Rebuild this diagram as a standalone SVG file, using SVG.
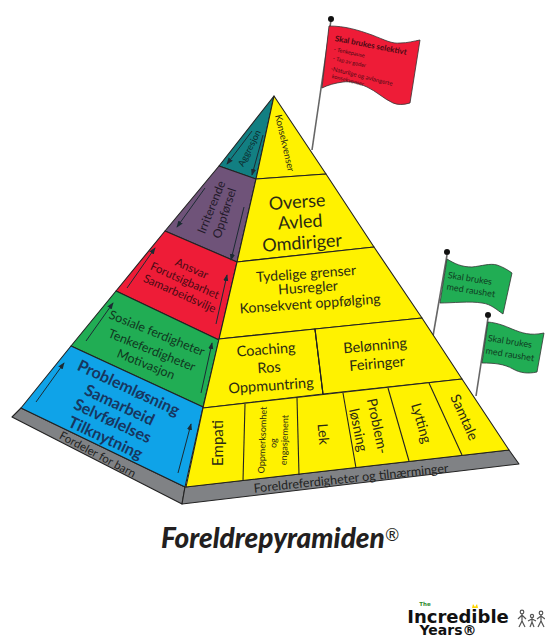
<svg xmlns="http://www.w3.org/2000/svg" width="545" height="637" viewBox="0 0 545 637">
<style>
text{font-family:"Lato","Open Sans","Liberation Sans",sans-serif;text-anchor:middle;dominant-baseline:central;fill:#2b2a14}
.s{stroke:#222;stroke-width:1.1;stroke-linejoin:round}
.l{stroke:#222;stroke-width:1.1;fill:none}
.a{stroke:#1c2b33;stroke-width:1;fill:none;marker-end:url(#ah)}
.pole{stroke:#666;stroke-width:1.6;fill:none}
.flag{stroke:#333;stroke-width:.8}
.b{fill:#17365f;font-weight:700}
.st{text-anchor:start;fill:#4a0a14}
.logo{font-family:"DejaVu Sans",sans-serif;font-weight:700;fill:#111}
</style>
<defs><marker id="ah" viewBox="0 0 8 8" refX="7" refY="4" markerWidth="7" markerHeight="7" markerUnits="userSpaceOnUse" orient="auto"><path d="M0 1L8 4L0 7z" fill="#1c2b33"/></marker></defs>
<rect width="545" height="637" fill="#fff"/>

<g id="flag-red">
<path class="pole" d="M331 20L312 150"/><circle cx="331" cy="19" r="3" fill="#111"/>
<path class="flag" fill="#ee1c37" d="M329 26C345 26 358 30 372 35C385 40 392 44 400 43C408 43 414 41 420 40L410 103C403 105 398 105 393 103C384 99 376 91 367 87C358 83 350 81 343 82C335 83 328 85 322 88Z"/>
<text class="st" transform="translate(335,38) rotate(11)" font-size="8" font-weight="700">Skal brukes selektivt</text>
<text class="st" transform="translate(334,49) rotate(12)" font-size="5.5">- Tenkepause</text>
<text class="st" transform="translate(333,58) rotate(13)" font-size="5.5">- Tap av goder</text>
<text class="st" transform="translate(331,68) rotate(14)" font-size="6">-Naturlige og avlangerte</text>
<text class="st" transform="translate(332,76) rotate(14)" font-size="5.5">konsekvenser</text>
</g>

<g id="flag-green-1">
<path class="pole" d="M447 255L433 336"/><circle cx="447" cy="252" r="3" fill="#111"/>
<path class="flag" fill="#21ad54" d="M447 259C455 264 462 267 472 267C482 266 490 263 497 265C503 267 508 270 512 273L503 314C497 310 491 304 482 303C470 301 452 303 440 303Z"/>
<text transform="translate(470,278) rotate(9)" font-size="9" style="fill:#0f3d22">Skal brukes</text>
<text transform="translate(471,290) rotate(9)" font-size="9" style="fill:#0f3d22">med raushet</text>
</g>

<g id="flag-green-2">
<path class="pole" d="M488 318L476 396"/><circle cx="488" cy="315" r="3" fill="#111"/>
<path class="flag" fill="#21ad54" d="M488 322C498 323 505 326 512 329C522 333 530 336 544 333L537 372C528 374 520 373 513 369C504 364 495 363 482 363Z"/>
<text transform="translate(510,341) rotate(9)" font-size="9" style="fill:#0f3d22">Skal brukes</text>
<text transform="translate(510,354) rotate(9)" font-size="9" style="fill:#0f3d22">med raushet</text>
</g>

<g id="base">
<path class="s" fill="#808285" d="M21 408L12 417L182 504L185 487Z"/>
<path class="s" fill="#808285" d="M185 487L182 504L519 464L509 450Z"/>
<text transform="translate(98,454) rotate(28)" font-size="11.5" style="fill:#222">Fordeler for barn</text>
<text transform="translate(351,478) rotate(-6)" font-size="12.5" style="fill:#222">Foreldreferdigheter og tilnærminger</text>
</g>

<g id="left-aggresjon">
<path class="s" fill="#127f82" d="M274 96L219 166L256 179Z"/>
<text transform="translate(249,148) rotate(-63)" font-size="9" style="fill:#0c2a2c">Aggresjon</text>
</g>
<g id="left-irriterende">
<path class="s" fill="#6f5379" d="M219 166L165 231L237 262L256 179Z"/>
<text transform="translate(211,207) rotate(-68)" font-size="12" style="fill:#231a2a">Irriterende</text>
<text transform="translate(224,213) rotate(-72)" font-size="12" style="fill:#231a2a">Oppførsel</text>
</g>
<g id="left-ansvar">
<path class="s" fill="#ee1c37" d="M165 231L116 291L219 340L237 262Z"/>
<text transform="translate(192,268) rotate(24)" font-size="11.5" style="fill:#4a0a14">Ansvar</text>
<text transform="translate(185,280) rotate(24)" font-size="11.5" style="fill:#4a0a14">Forutsigbarhet</text>
<text transform="translate(180,293) rotate(24)" font-size="11.5" style="fill:#4a0a14">Samarbeidsvilje</text>
</g>
<g id="left-sosiale">
<path class="s" fill="#21ad54" d="M116 291L71 346L203 407L219 340Z"/>
<text transform="translate(157,333) rotate(22)" font-size="12.5" style="fill:#10381f">Sosiale ferdigheter</text>
<text transform="translate(152,350) rotate(22)" font-size="12.5" style="fill:#10381f">Tenkeferdigheter</text>
<text transform="translate(146,364) rotate(22)" font-size="12.5" style="fill:#10381f">Motivasjon</text>
</g>
<g id="left-problemlosning">
<path class="s" fill="#0fa3e8" d="M71 346L21 408L185 487L203 407Z"/>
<text class="b" transform="translate(129,387) rotate(25)" font-size="16">Problemløsning</text>
<text class="b" transform="translate(120,404) rotate(25)" font-size="16">Samarbeid</text>
<text class="b" transform="translate(113,420) rotate(25)" font-size="16">Selvfølelses</text>
<text class="b" transform="translate(106,437) rotate(25)" font-size="16">Tilknytning</text>
</g>

<g id="front-konsekvenser">
<path class="s" fill="#fff200" d="M274 96L256 179L326 174Z"/>
<text transform="translate(285,143) rotate(77)" font-size="9.5">Konsekvenser</text>
</g>
<g id="front-overse">
<path class="s" fill="#fff200" d="M256 179L237 262L374 247L326 174Z"/>
<text transform="translate(297,201) rotate(-4)" font-size="18">Overse</text>
<text transform="translate(300,221) rotate(-4)" font-size="18">Avled</text>
<text transform="translate(302,242) rotate(-4)" font-size="18">Omdiriger</text>
</g>
<g id="front-tydelige">
<path class="s" fill="#fff200" d="M237 262L219 339L422 318L374 247Z"/>
<text transform="translate(306,273) rotate(-4)" font-size="14">Tydelige grenser</text>
<text transform="translate(308,287) rotate(-4)" font-size="14">Husregler</text>
<text transform="translate(310,303) rotate(-4)" font-size="14">Konsekvent oppfølging</text>
</g>
<g id="front-coaching">
<path class="s" fill="#fff200" d="M219 339L203 408L323 394L315 329Z"/>
<text transform="translate(266,349) rotate(-4)" font-size="14.5">Coaching</text>
<text transform="translate(269,367) rotate(-4)" font-size="14.5">Ros</text>
<text transform="translate(271,385) rotate(-4)" font-size="14.5">Oppmuntring</text>
</g>
<g id="front-belonning">
<path class="s" fill="#fff200" d="M315 329L323 394L462 379L422 318Z"/>
<text transform="translate(375,345) rotate(-5)" font-size="14.5">Belønning</text>
<text transform="translate(377,363) rotate(-5)" font-size="14.5">Feiringer</text>
</g>
<g id="front-ferdigheter">
<path class="s" fill="#fff200" d="M203 408L186 487L509 450L462 379Z"/>
</g>
<g id="skill-empati"><text transform="translate(217,443) rotate(-90)" font-size="15">Empati</text></g>
<g id="skill-oppmerksomhet">
<text transform="translate(262,440) rotate(-88)" font-size="9">Oppmerksomhet</text>
<text transform="translate(273,443) rotate(-88)" font-size="9">og</text>
<text transform="translate(284,440) rotate(-88)" font-size="9">engasjement</text>
</g>
<g id="skill-lek"><text transform="translate(324,434) rotate(85)" font-size="14">Lek</text></g>
<g id="skill-problem">
<text transform="translate(378,426) rotate(78)" font-size="14">Problem-</text>
<text transform="translate(359,430) rotate(78)" font-size="14">løsning</text>
</g>
<g id="skill-lytting"><text transform="translate(422,423) rotate(74)" font-size="14">Lytting</text></g>
<g id="skill-samtale"><text transform="translate(465,417) rotate(66)" font-size="14">Samtale</text></g>

<g id="connectors">
<path class="l" d="M315 329L323 394"/>
<path class="l" d="M245 404L243 481"/>
<path class="l" d="M297 398L299 475"/>
<path class="l" d="M343 393L356 468"/>
<path class="l" d="M388 388L409 461"/>
<path class="l" d="M429 383L462 455"/>
<path class="a" d="M36 402L64 363"/>
<path class="a" d="M178 473L191 424"/>
<path class="a" d="M86 341L113 303"/>
<path class="a" d="M201 393L212 343"/>
<path class="a" d="M127 288L155 248"/>
<path class="a" d="M216 324L227 275"/>
<path class="a" d="M205 188L177 227"/>
<path class="a" d="M244 207L231 260"/>
<path class="a" d="M252 131L227 164"/>
<path class="a" d="M263 135L252 175"/>
</g>

<g id="title">
<text x="280" y="537" font-size="28" font-weight="900" font-style="italic" style="fill:#231f20">Foreldrepyramiden<tspan font-size="17" font-weight="400" dy="-3">®</tspan></text>
</g>

<g id="logo">
<text class="logo" x="425" y="604" font-size="5.5" style="fill:#2e8b2e">The</text>
<text class="logo" x="458" y="616" font-size="18">Incredible</text>
<text class="logo" x="448" y="630" font-size="14">Years®</text>
<path d="M472 608L473 604L475 607L477 604L478 608Z" fill="#ffd500"/>
<g stroke="#555" stroke-width="1.2" fill="none">
<circle cx="522" cy="612" r="1.8"/><path d="M522 614V621M518 619L522 615L526 619M522 621L519 627M522 621L525 627"/>
<circle cx="532" cy="616" r="1.6"/><path d="M532 618V622M528 621L532 619L536 621M532 622L530 627M532 622L534 627"/>
<circle cx="541" cy="613" r="1.8"/><path d="M541 615V621M537 619L541 616L545 619M541 621L538 627M541 621L544 627"/>
</g>
</g>
</svg>
